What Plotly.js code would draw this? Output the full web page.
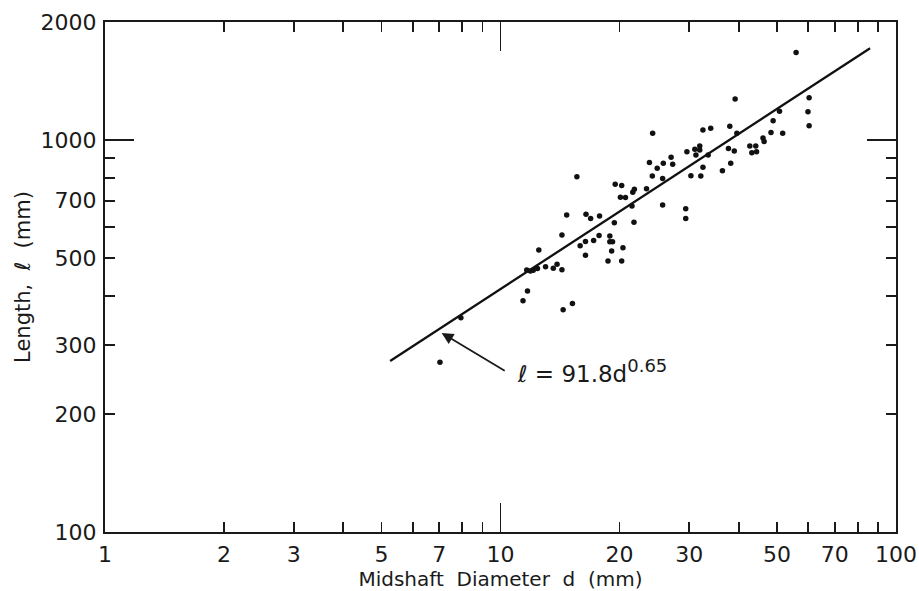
<!DOCTYPE html>
<html>
<head>
<meta charset="utf-8">
<script src="https://cdn.plot.ly/plotly-3.0.1.min.js"></script>
<style>html,body{margin:0;padding:0;background:#fff;}#chart{width:919px;height:591px;}</style>
</head>
<body>
<div id="chart"></div>
<script>
// Midshaft diameter (mm) and length (mm) of each bone
const diameter = [7.03, 7.94, 11.4, 11.7, 11.65, 11.9, 12.1, 12.4, 12.5, 13.0,
  13.6, 13.9, 14.3, 14.4, 15.2, 14.3, 14.7, 15.6, 15.9, 16.4,
  16.4, 16.45, 16.9, 17.2, 17.75, 17.8, 18.7, 18.9, 18.9, 19.2,
  19.1, 19.4, 19.5, 20.25, 20.1, 20.7, 20.4, 20.25, 21.5, 21.6,
  21.8, 21.75, 23.4, 23.8, 24.25, 24.2, 24.9, 25.7, 25.8, 25.7,
  27.0, 27.25, 29.4, 29.4, 29.6, 30.3, 31.0, 31.9, 31.9, 31.2,
  32.1, 32.5, 32.5, 34.0, 33.5, 36.4, 37.7, 38.0, 38.2, 39.0,
  39.2, 39.6, 42.7, 44.2, 43.2, 44.4, 46.1, 46.4, 48.3, 48.9,
  50.75, 51.7, 55.9, 60.3, 59.9, 60.3];
const length = [271, 352, 389, 412, 466, 463, 465, 470, 524, 475,
  471, 482, 467, 369, 383, 572, 644, 806, 537, 551,
  508, 647, 631, 554, 571, 640, 491, 569, 550, 550,
  521, 615, 771, 765, 714, 713, 531, 491, 679, 736,
  749, 617, 751, 876, 1040, 809, 847, 798, 872, 683,
  903, 867, 668, 631, 934, 811, 947, 965, 943, 916,
  809, 852, 1060, 1071, 916, 835, 952, 1084, 872, 937,
  1272, 1040, 965, 965, 928, 934, 1012, 991, 1045, 1120,
  1184, 1040, 1672, 1282, 1181, 1088];

// Fitted line l = 91.8 d^0.65 (end points as drawn)
const fitDiameter = [5.26, 86];
const fitLength = [273, 1714];

// Axis ticks
const xTickVals = [1,2,3,4,5,6,7,8,9,10,20,30,40,50,60,70,80,90,100];
const xTickText = ['1','2','3','','5','','7','','','10','20','30','','50','','70','','','100'];
const yTickVals = [100,200,300,400,500,600,700,800,900,1000,2000];
const yTickText = ['100','200','300','','500','','700','','','1000','2000'];
const xMajor = [10];
const yMajor = [1000];

// Equation label: arrow tip on the line, and label start
const eqTip = [7.1, 322];
const eqLabel = [10.9, 257];
const eqText = '\u2113 = 91.8d<sup><span style="font-size:18px">0.65</span></sup>';

const FONT = 'DejaVu Sans, sans-serif';
const INK = '#1a1a1a';

const traces = [
  {x: diameter, y: length, type: 'scatter', mode: 'markers',
   marker: {size: 5.5, color: '#111'}, hoverinfo: 'skip', showlegend: false},
  {x: fitDiameter, y: fitLength, type: 'scatter', mode: 'lines',
   line: {color: '#111', width: 2.3}, hoverinfo: 'skip', showlegend: false},
  {x: [1], y: [100], xaxis: 'x2', yaxis: 'y2', type: 'scatter', mode: 'markers',
   marker: {size: 1, opacity: 0}, hoverinfo: 'skip', showlegend: false}
];

const baseAxis = {
  type: 'log', showgrid: false, zeroline: false,
  showline: true, linecolor: INK, linewidth: 2, mirror: 'ticks',
  ticks: 'inside', ticklen: 10, tickwidth: 1.8, tickcolor: INK,
  tickfont: {family: FONT, size: 22, color: INK}
};

const layout = {
  width: 919, height: 591,
  margin: {l: 105, r: 23, t: 22, b: 59},
  paper_bgcolor: '#fff', plot_bgcolor: '#fff',
  showlegend: false,
  xaxis: Object.assign({}, baseAxis, {
    range: [0, 2], tickmode: 'array', tickvals: xTickVals, ticktext: xTickText,
    ticklabelstandoff: 2,
    title: {text: 'Midshaft\u00a0\u00a0Diameter\u00a0\u00a0d\u00a0\u00a0(mm)', standoff: 2,
      font: {family: FONT, size: 20, color: INK}}
  }),
  yaxis: Object.assign({}, baseAxis, {
    range: [2, Math.log10(2000)], tickmode: 'array', tickvals: yTickVals, ticktext: yTickText,
    ticklabelstandoff: 2,
    title: {text: 'Length,\u00a0\u00a0\u2113\u00a0\u00a0(mm)', standoff: 4,
      font: {family: FONT, size: 21, color: INK}}
  }),
  xaxis2: {type: 'log', overlaying: 'x', anchor: 'y2', range: [0, 2], showgrid: false, zeroline: false,
    showline: false, showticklabels: false, mirror: 'ticks', ticks: 'inside', ticklen: 29,
    tickwidth: 1.8, tickcolor: INK, tickmode: 'array', tickvals: xMajor},
  yaxis2: {type: 'log', overlaying: 'y', anchor: 'x2', range: [2, Math.log10(2000)], showgrid: false, zeroline: false,
    showline: false, showticklabels: false, mirror: 'ticks', ticks: 'inside', ticklen: 29,
    tickwidth: 1.8, tickcolor: INK, tickmode: 'array', tickvals: yMajor},
  annotations: [
    {x: Math.log10(eqTip[0]), y: Math.log10(eqTip[1]), xref: 'x', yref: 'y',
     text: ' ', showarrow: true, arrowhead: 2, arrowsize: 1.3, arrowwidth: 1.8, arrowcolor: INK,
     ax: 65, ay: 39, font: {size: 4}},
    {x: Math.log10(eqLabel[0]), y: Math.log10(eqLabel[1]), xref: 'x', yref: 'y',
     text: eqText, showarrow: false, xanchor: 'left', yanchor: 'middle',
     font: {family: FONT, size: 23, color: INK}}
  ]
};

Plotly.newPlot('chart', traces, layout, {staticPlot: true, displayModeBar: false});
</script>
</body>
</html>
